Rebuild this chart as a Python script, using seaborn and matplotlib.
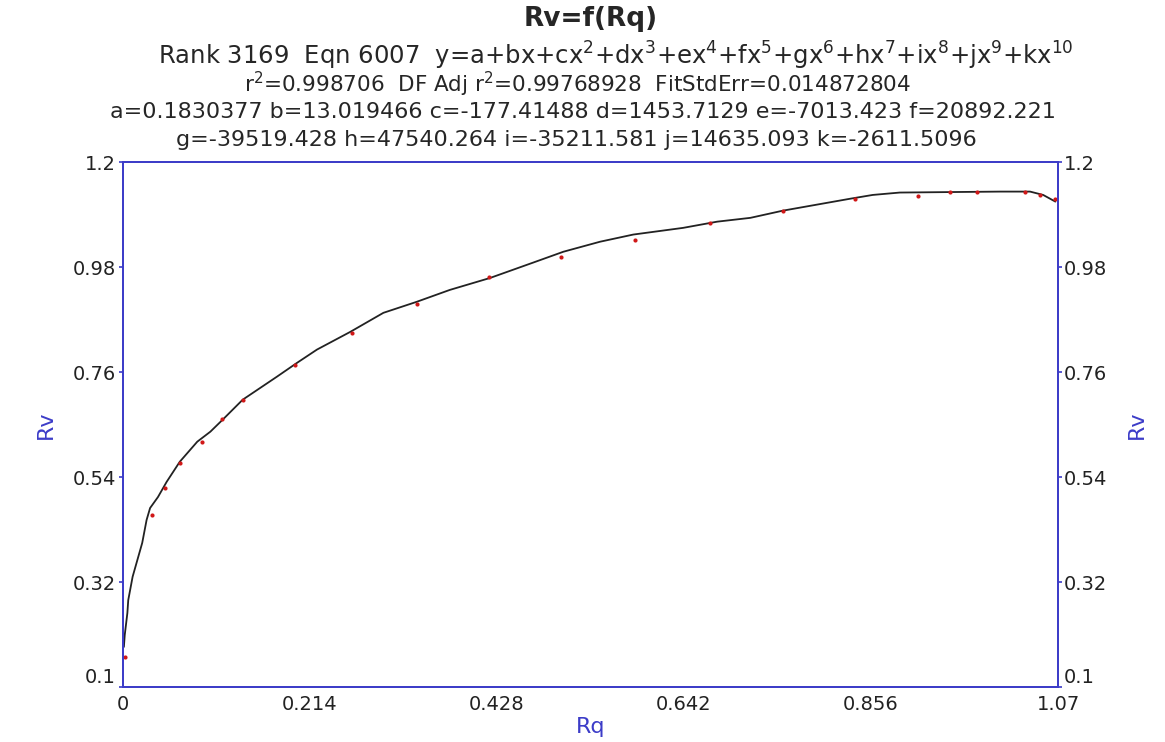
import numpy as np
import pandas as pd
import matplotlib
matplotlib.use("Agg")
from matplotlib import pyplot as plt
import seaborn as sns

# measured points (red dots)
rq_pts = [0.002, 0.033, 0.048, 0.065, 0.090, 0.113, 0.137, 0.197, 0.262, 0.336,
          0.419, 0.501, 0.586, 0.672, 0.755, 0.838, 0.910, 0.946, 0.977, 1.032,
          1.049, 1.067]
rv_pts = [0.163, 0.460, 0.517, 0.570, 0.614, 0.662, 0.702, 0.775, 0.842, 0.903,
          0.960, 1.001, 1.037, 1.073, 1.098, 1.123, 1.129, 1.138, 1.138, 1.138,
          1.131, 1.123]

# fitted curve
rq_fit = [0.001, 0.002, 0.005, 0.006, 0.011, 0.022, 0.027, 0.031, 0.040, 0.050,
          0.065, 0.085, 0.100, 0.114, 0.137, 0.176, 0.199, 0.222, 0.260, 0.298,
          0.336, 0.374, 0.420, 0.469, 0.504, 0.546, 0.584, 0.641, 0.680, 0.718,
          0.755, 0.832, 0.858, 0.889, 1.004, 1.038, 1.053, 1.067]
rv_fit = [0.184, 0.209, 0.255, 0.282, 0.331, 0.402, 0.450, 0.475, 0.498, 0.530,
          0.572, 0.614, 0.635, 0.660, 0.702, 0.750, 0.779, 0.807, 0.844, 0.884,
          0.907, 0.932, 0.957, 0.989, 1.012, 1.033, 1.048, 1.062, 1.075, 1.083,
          1.098, 1.123, 1.131, 1.136, 1.138, 1.138, 1.131, 1.117]

x_ticks = [0, 0.214, 0.428, 0.642, 0.856, 1.07]
x_labels = ["0", "0.214", "0.428", "0.642", "0.856", "1.07"]
y_ticks = [0.1, 0.32, 0.54, 0.76, 0.98, 1.2]
y_labels = ["0.1", "0.32", "0.54", "0.76", "0.98", "1.2"]

sns.set_style("white")
plt.rcParams['font.family'] = ['DejaVu Sans']
plt.rcParams['mathtext.fontset'] = 'dejavusans'

blue = '#3c3cc8'
fig = plt.figure(figsize=(11.65, 7.42), dpi=100)
ax = fig.add_axes([0.10558, 0.07412, 0.80258, 0.70755])

sns.lineplot(x=rq_fit, y=rv_fit, ax=ax, color='#222222', lw=1.3, sort=False)
sns.scatterplot(x=rq_pts, y=rv_pts, ax=ax, color='#d01818', s=9, linewidth=0, zorder=3)

ax.set_xlim(0, 1.07)
ax.set_ylim(0.1, 1.2)
ax.set_xticks(x_ticks)
ax.set_xticklabels(x_labels)
ax.set_yticks(y_ticks)
ax.set_yticklabels(y_labels)
ax.tick_params(colors=blue, labelcolor='#222222', labelsize=14, length=3, width=1.2)
ax.tick_params(axis='y', pad=2)
ax.tick_params(axis='x', pad=3)
for s in ax.spines.values():
    s.set_color(blue)
    s.set_linewidth(1.3)
ax.set_xlabel("Rq", color=blue, fontsize=16, labelpad=2)
ax.set_ylabel("Rv", color=blue, fontsize=16, labelpad=12)

ax2 = ax.twinx()
ax2.set_ylim(0.1, 1.2)
ax2.set_yticks(y_ticks)
ax2.set_yticklabels(y_labels)
ax2.tick_params(colors=blue, labelcolor='#222222', labelsize=14, length=3, width=1.2, pad=1)
for s in ax2.spines.values():
    s.set_color(blue)
    s.set_linewidth(1.3)
ax2.set_ylabel("Rv", color=blue, fontsize=16, labelpad=14)

# bottom labels sit on the axis line, like the original
for a in (ax, ax2):
    a.get_yticklabels()[0].set_va('bottom')

fig.text(0.507, 0.974, "Rv=f(Rq)", ha='center', va='center', fontsize=19, fontweight='bold')
fig.text(0.529, 0.925, "Rank 3169  Eqn 6007  y=a+bx+cx$^2$+dx$^3$+ex$^4$+fx$^5$+gx$^6$+hx$^7$+ix$^8$+jx$^9$+kx$^{10}$",
         ha='center', va='center', fontsize=17.5)
fig.text(0.496, 0.886, "r$^2$=0.998706  DF Adj r$^2$=0.99768928  FitStdErr=0.014872804",
         ha='center', va='center', fontsize=15.5)
fig.text(0.500, 0.849, "a=0.1830377 b=13.019466 c=-177.41488 d=1453.7129 e=-7013.423 f=20892.221",
         ha='center', va='center', fontsize=16)
fig.text(0.495, 0.811, "g=-39519.428 h=47540.264 i=-35211.581 j=14635.093 k=-2611.5096",
         ha='center', va='center', fontsize=16)

plt.savefig("out.png", dpi=100)
